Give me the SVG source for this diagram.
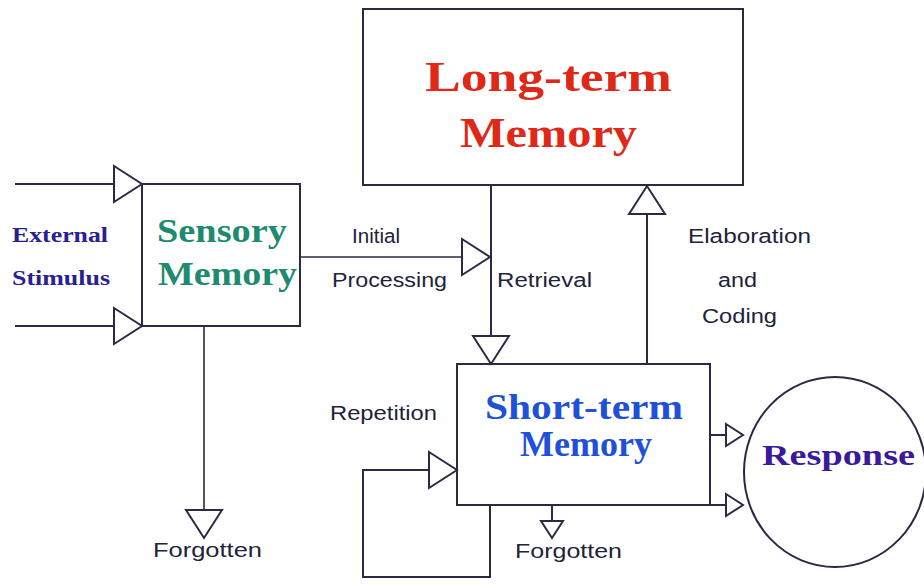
<svg xmlns="http://www.w3.org/2000/svg" width="924" height="584" viewBox="0 0 924 584">
<defs>
<style>
.box{fill:#fff;stroke:#2a2a45;stroke-width:2}
.ln{fill:none;stroke:#2a2a45;stroke-width:2}
.big{font-family:"Liberation Serif",serif;font-weight:bold}
.lbl{font-family:"Liberation Sans",Arial,sans-serif;font-size:20px;fill:#22223a}
</style>
<marker id="tri" markerUnits="userSpaceOnUse" markerWidth="32" markerHeight="40" refX="28" refY="18" orient="auto" overflow="visible">
<path d="M0,0 L28,18 L0,36 Z" fill="#fff" stroke="#2a2a45" stroke-width="2"/>
</marker>
<marker id="tris" markerUnits="userSpaceOnUse" markerWidth="22" markerHeight="26" refX="17" refY="11" orient="auto" overflow="visible">
<path d="M0,0 L17,11 L0,22 Z" fill="#fff" stroke="#2a2a45" stroke-width="2"/>
</marker>
</defs>
<rect width="924" height="584" fill="#fff"/>

<g id="connectors">
<path class="ln" d="M15,184 H142" marker-end="url(#tri)"/>
<path class="ln" d="M15,326 H142" marker-end="url(#tri)"/>
<path class="ln" d="M300,257 H490" style="stroke-width:1.6" marker-end="url(#tri)"/>
<path class="ln" d="M491,186 V364" marker-end="url(#tri)"/>
<path class="ln" d="M647,364 V186" marker-end="url(#tri)"/>
<path class="ln" d="M204,327 V538" style="stroke-width:1.6" marker-end="url(#tri)"/>
<path class="ln" d="M490,506 V577 H363 V470 H457" marker-end="url(#tri)"/>
<path class="ln" d="M552,506 V538" marker-end="url(#tris)"/>
<path class="ln" d="M710,435 H743" marker-end="url(#tris)"/>
<path class="ln" d="M710,505 H743" marker-end="url(#tris)"/>
<text class="lbl" x="352" y="243" textLength="48" lengthAdjust="spacingAndGlyphs">Initial</text>
<text class="lbl" x="332" y="287" textLength="115" lengthAdjust="spacingAndGlyphs">Processing</text>
<text class="lbl" x="497" y="287" textLength="95" lengthAdjust="spacingAndGlyphs">Retrieval</text>
<text class="lbl" x="688" y="243" textLength="123" lengthAdjust="spacingAndGlyphs">Elaboration</text>
<text class="lbl" x="718" y="287" textLength="39" lengthAdjust="spacingAndGlyphs">and</text>
<text class="lbl" x="702" y="323" textLength="75" lengthAdjust="spacingAndGlyphs">Coding</text>
<text class="lbl" x="330" y="420" textLength="107" lengthAdjust="spacingAndGlyphs">Repetition</text>
<text class="lbl" x="153" y="557" textLength="109" lengthAdjust="spacingAndGlyphs">Forgotten</text>
<text class="lbl" x="515" y="558" textLength="107" lengthAdjust="spacingAndGlyphs">Forgotten</text>
</g>

<g id="external-stimulus">
<text class="big" x="12" y="242" font-size="21" fill="#2a2090" textLength="96" lengthAdjust="spacingAndGlyphs">External</text>
<text class="big" x="12" y="285" font-size="21" fill="#2a2090" textLength="98" lengthAdjust="spacingAndGlyphs">Stimulus</text>
</g>

<g id="sensory-memory">
<rect class="box" x="142" y="184" width="158" height="142" style="fill:none"/>
<text class="big" x="157" y="242" font-size="33" fill="#1e8a70" textLength="130" lengthAdjust="spacingAndGlyphs">Sensory</text>
<text class="big" x="158" y="285" font-size="33" fill="#1e8a70" textLength="139" lengthAdjust="spacingAndGlyphs">Memory</text>
</g>

<g id="long-term-memory">
<rect class="box" x="363" y="9" width="380" height="176"/>
<text class="big" x="425" y="91" font-size="43" fill="#e02818" textLength="247" lengthAdjust="spacingAndGlyphs">Long-term</text>
<text class="big" x="460" y="147" font-size="43" fill="#e02818" textLength="177" lengthAdjust="spacingAndGlyphs">Memory</text>
</g>

<g id="short-term-memory">
<rect class="box" x="457" y="364" width="253" height="141" style="fill:none"/>
<text class="big" x="485" y="419" font-size="36" fill="#2050d8" textLength="198" lengthAdjust="spacingAndGlyphs">Short-term</text>
<text class="big" x="520" y="456" font-size="36" fill="#2050d8" textLength="132" lengthAdjust="spacingAndGlyphs">Memory</text>
</g>

<g id="response">
<ellipse cx="835" cy="472" rx="91" ry="95" fill="none" stroke="#2a2a45" stroke-width="2"/>
<text class="big" x="762" y="465" font-size="30" fill="#3a1a9a" textLength="153" lengthAdjust="spacingAndGlyphs">Response</text>
</g>
</svg>
